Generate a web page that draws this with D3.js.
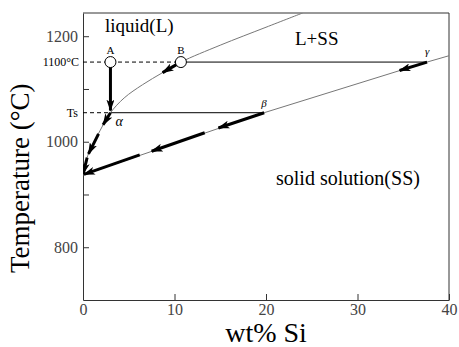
<!DOCTYPE html>
<html>
<head>
<meta charset="utf-8">
<script src="https://cdn.jsdelivr.net/npm/d3@7"></script>
<style>
  body { margin: 0; background: #fff; }
  text { font-family: "Liberation Serif", "Times New Roman", serif; }
</style>
</head>
<body>
<svg id="chart"></svg>
<script>
// ---- data (wt% Si, temperature) ----
var liquidus = [[0,937],[0.3,962],[0.8,986],[1.5,1009],[2.2,1032],[3.0,1055],[4.5,1083],
                [6.5,1108],[8.7,1131],[10.7,1151],[15,1183],[20,1217],[24,1244]];
var solidus = [[0,937],[19.8,1055],[37.6,1151],[40,1163]];
var T1100 = 1151, Ts = 1055;       // isotherm levels as drawn
var pointA = [3.0, 1151], pointB = [10.7, 1151];
var alpha = [3.0, 1055], beta = [19.8, 1055], gamma = [37.6, 1151];
// thick arrows: [from, to]
var arrows = [
  [[3.0,1146],[3.0,1059]],
  [[10.4,1148],[8.7,1131]],
  [[3.0,1055],[2.2,1032]],
  [[1.7,1015],[0.6,977]],
  [[0.45,970],[0.02,939]],
  [[19.8,1055],[14.8,1026]],
  [[13.3,1017],[7.5,982]],
  [[6.2,975],[0.1,938]],
  [[37.6,1151],[34.6,1135]]
];
var xTicks = [0,10,20,30,40];
var yTicks = [800,900,1000,1100,1200];
var yLabels = [800,1000,1200];

// ---- setup ----
var W = 459, H = 347;
var margin = {top: 13, right: 10, bottom: 47, left: 83};
var width = W - margin.left - margin.right,
    height = H - margin.top - margin.bottom;
var serif = '"Liberation Serif", "Times New Roman", serif';

var svg = d3.select("#chart").attr("width", W).attr("height", H);

svg.append("defs").append("marker")
    .attr("id", "head")
    .attr("viewBox", "0 0 12 8")
    .attr("refX", 11).attr("refY", 4)
    .attr("markerWidth", 12).attr("markerHeight", 8)
    .attr("markerUnits", "userSpaceOnUse")
    .attr("orient", "auto")
  .append("path")
    .attr("d", "M0,0 L12,4 L0,8 L3,4 Z")
    .attr("fill", "#000");

svg.append("clipPath").attr("id", "clip")
  .append("rect").attr("width", width).attr("height", height);

var g = svg.append("g").attr("transform", "translate(" + margin.left + "," + margin.top + ")");

var x = d3.scaleLinear().domain([0, 40]).range([0, width]);
var y = d3.scaleLinear().domain([700, 1244]).range([height, 0]);

// axes (ticks inside)
var xAxis = d3.axisBottom(x).tickValues(xTicks).tickSizeInner(-6).tickSizeOuter(0).tickPadding(4);
var yAxis = d3.axisLeft(y).tickValues(yTicks).tickSizeInner(-6).tickSizeOuter(0).tickPadding(5)
    .tickFormat(d => yLabels.indexOf(d) >= 0 ? d : "");

var gx = g.append("g").attr("transform", "translate(0," + height + ")").call(xAxis);
var gy = g.append("g").call(yAxis);
[gx, gy].forEach(function(a) {
  a.attr("font-family", serif);
  a.select(".domain").attr("stroke", "#333");
  a.selectAll(".tick line").attr("stroke", "#333");
  a.selectAll("text").attr("font-size", 16).attr("fill", "#444")
    .style("font-family", serif);
});
// frame top/right
g.append("path").attr("d", "M0,0H" + width + "V" + height)
    .attr("fill", "none").attr("stroke", "#333");

// small labels on y axis
g.append("text").attr("x", -4).attr("y", y(T1100)).attr("dy", "0.35em")
    .attr("text-anchor", "end").attr("font-size", 12).text("1100°C");
g.append("text").attr("x", -5).attr("y", y(Ts)).attr("dy", "0.35em")
    .attr("text-anchor", "end").attr("font-size", 12).text("Ts");

var plot = g.append("g").attr("clip-path", "url(#clip)");

// isotherms
plot.append("line").attr("x1", 0).attr("x2", x(pointB[0])).attr("y1", y(T1100)).attr("y2", y(T1100))
    .attr("stroke", "#000").attr("stroke-dasharray", "4,3");
plot.append("line").attr("x1", x(pointB[0])).attr("x2", x(gamma[0])).attr("y1", y(T1100)).attr("y2", y(T1100))
    .attr("stroke", "#000");
plot.append("line").attr("x1", 0).attr("x2", x(alpha[0])).attr("y1", y(Ts)).attr("y2", y(Ts))
    .attr("stroke", "#000").attr("stroke-dasharray", "4,3");
plot.append("line").attr("x1", x(alpha[0])).attr("x2", x(beta[0])).attr("y1", y(Ts)).attr("y2", y(Ts))
    .attr("stroke", "#000");

// phase boundaries
var line = d3.line().x(d => x(d[0])).y(d => y(d[1]));
plot.append("path").attr("d", d3.line().x(d => x(d[0])).y(d => y(d[1])).curve(d3.curveCatmullRom.alpha(0.5))(liquidus))
    .attr("fill", "none").attr("stroke", "#777").attr("stroke-width", 1);
plot.append("path").attr("d", line(solidus))
    .attr("fill", "none").attr("stroke", "#777").attr("stroke-width", 1);

// arrows
plot.selectAll(".arrow").data(arrows).enter().append("line")
    .attr("class", "arrow")
    .attr("x1", d => x(d[0][0])).attr("y1", d => y(d[0][1]))
    .attr("x2", d => x(d[1][0])).attr("y2", d => y(d[1][1]))
    .attr("stroke", "#000").attr("stroke-width", 3)
    .attr("marker-end", "url(#head)");

// points A, B
plot.selectAll(".pt").data([pointA, pointB]).enter().append("circle")
    .attr("cx", d => x(d[0])).attr("cy", d => y(d[1])).attr("r", 5.5)
    .attr("fill", "#fff").attr("stroke", "#000");
g.append("text").attr("x", x(pointA[0])).attr("y", y(pointA[1]) - 8)
    .attr("text-anchor", "middle").attr("font-size", 11).text("A");
g.append("text").attr("x", x(pointB[0])).attr("y", y(pointB[1]) - 8)
    .attr("text-anchor", "middle").attr("font-size", 11).text("B");
g.append("text").attr("x", x(alpha[0]) + 5).attr("y", y(alpha[1]) + 13)
    .attr("font-size", 14).attr("font-style", "italic").text("α");
g.append("text").attr("x", x(beta[0]) - 3).attr("y", y(beta[1]) - 6)
    .attr("font-size", 11).attr("font-style", "italic").text("β");
g.append("text").attr("x", x(gamma[0]) - 2).attr("y", y(gamma[1]) - 7)
    .attr("font-size", 11).attr("font-style", "italic").text("γ");

// region labels
g.append("text").attr("x", 22).attr("y", 19).attr("font-size", 19).text("liquid(L)");
g.append("text").attr("x", 212).attr("y", 32).attr("font-size", 19).text("L+SS");
g.append("text").attr("x", 193).attr("y", 172).attr("font-size", 20).text("solid solution(SS)");

// axis titles
svg.append("text").attr("x", 266).attr("y", 342).attr("text-anchor", "middle")
    .attr("font-size", 28).text("wt% Si");
svg.append("text").attr("transform", "translate(29,273)rotate(-90)")
    .attr("font-size", 27).text("Temperature (°C)");
</script>
</body>
</html>
